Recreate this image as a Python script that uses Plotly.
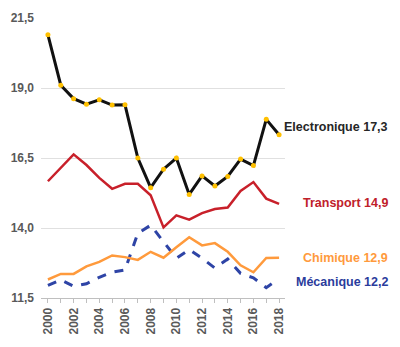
import plotly.graph_objects as go

years = list(range(2000, 2019))
electronique = [20.9, 19.1, 18.62, 18.42, 18.58, 18.39, 18.4, 16.5, 15.44, 16.1, 16.5, 15.2, 15.86, 15.5, 15.84, 16.46, 16.23, 17.88, 17.33]
transport = [15.67, 16.14, 16.63, 16.25, 15.79, 15.4, 15.58, 15.58, 15.17, 14.02, 14.45, 14.3, 14.53, 14.68, 14.73, 15.32, 15.64, 15.05, 14.86]
chimique = [12.16, 12.36, 12.36, 12.63, 12.79, 13.02, 12.96, 12.86, 13.15, 12.94, 13.31, 13.67, 13.38, 13.46, 13.15, 12.67, 12.42, 12.93, 12.94]
mecanique = [11.95, 12.15, 11.92, 12.01, 12.24, 12.42, 12.5, 13.81, 14.1, 13.52, 12.92, 13.23, 12.92, 12.57, 12.89, 12.38, 12.22, 11.87, 12.19]
y_ticks = [11.5, 14.0, 16.5, 19.0, 21.5]
y_ticklabels = ["11,5", "14,0", "16,5", "19,0", "21,5"]

FONT = "Arial, 'Liberation Sans', sans-serif"

fig = go.Figure()
fig.add_trace(go.Scatter(x=years, y=mecanique, mode="lines",
                         line=dict(color="#2E44A6", width=3, dash="dash")))
fig.add_trace(go.Scatter(x=years, y=chimique, mode="lines",
                         line=dict(color="#FF9A3C", width=2.5)))
fig.add_trace(go.Scatter(x=years, y=transport, mode="lines",
                         line=dict(color="#C8202A", width=2.5)))
fig.add_trace(go.Scatter(x=years, y=electronique, mode="lines+markers",
                         line=dict(color="#111111", width=3),
                         marker=dict(color="#FFC000", size=5, line=dict(width=0))))

def fmt(v):
    return f"{v:.1f}".replace(".", ",")

labels = [
    ("Electronique", electronique[-1], "#262626", 17.61),
    ("Transport", transport[-1], "#C0202A", 14.91),
    ("Chimique", chimique[-1], "#FF9A3C", 12.94),
    ("Mécanique", mecanique[-1], "#2B3C9C", 12.06),
]
for name, val, col, ypos in labels:
    fig.add_annotation(x=1.43, xref="paper", y=ypos, yref="y",
                       text=f"<b>{name} {fmt(val)}</b>", showarrow=False,
                       xanchor="right", yanchor="middle",
                       font=dict(family=FONT, size=12.5, color=col))

fig.update_layout(
    width=400, height=347,
    margin=dict(l=39, r=115, t=11, b=49),
    paper_bgcolor="white", plot_bgcolor="white",
    showlegend=False,
    font=dict(family=FONT),
)
fig.update_xaxes(
    range=[1999.46, 2018.46], tickmode="array",
    tickvals=list(range(2000, 2019, 2)),
    ticktext=[f"<b>{y}</b>" for y in range(2000, 2019, 2)],
    tickangle=-90, tickfont=dict(size=12, color="#595959", family=FONT),
    showgrid=False, showline=True, linecolor="#BFBFBF", linewidth=1,
    ticks="outside", ticklen=4, tickcolor="#BFBFBF",
    minor=dict(tickvals=years, ticks="outside", ticklen=4, tickcolor="#BFBFBF"),
    zeroline=False,
)
fig.update_yaxes(
    range=[11.5, 21.5], tickmode="array", tickvals=y_ticks,
    ticktext=[f"<b>{t}</b>" for t in y_ticklabels],
    tickfont=dict(size=12, color="#595959", family=FONT),
    showgrid=True, gridcolor="#E0E0E0", gridwidth=1,
    showline=False, zeroline=False, ticks="", ticklabelstandoff=6,
)

fig.write_html("out.html")
